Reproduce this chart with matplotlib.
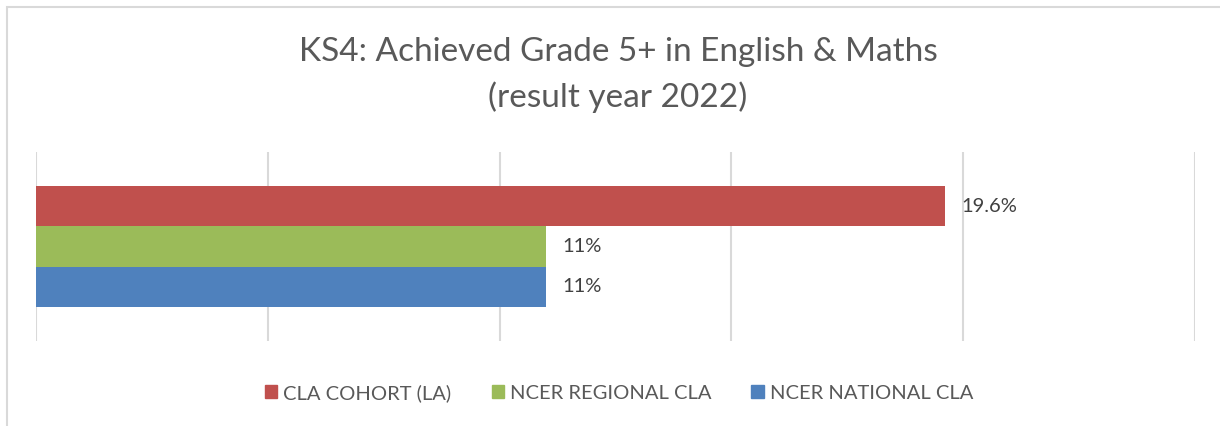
import matplotlib
matplotlib.use("Agg")
import matplotlib.pyplot as plt
from matplotlib.patches import Rectangle

series = ["CLA COHORT (LA)", "NCER REGIONAL CLA", "NCER NATIONAL CLA"]
values = [19.6, 11, 11]
labels = ["19.6%", "11%", "11%"]
colors = ["#C0504D", "#9BBB59", "#4F81BD"]
xticks = [0, 5, 10, 15, 20, 25]

plt.rcParams['font.family'] = ['Lato', 'DejaVu Sans']

W, H = 1220, 426
fig = plt.figure(figsize=(W/100, H/100), dpi=100)
fig.patch.set_facecolor("white")

# outer chart border
fig.add_artist(Rectangle((7/W, -0.01), 1.02, 1 - 7/H + 0.01, transform=fig.transFigure,
                         fill=False, edgecolor="#D9D9D9", linewidth=1.5))

ax = fig.add_axes([36/W, 1 - 341/H, (1195 - 36)/W, (341 - 152)/H])
positions = [1, 0, -1]
for pos, v, c, lab in zip(positions, values, colors, labels):
    ax.barh(pos, v, height=1.0, color=c, label=None)
    ax.annotate(lab, (v, pos), xytext=(12, 0), textcoords="offset points",
                va="center", ha="left", fontsize=14.5, color="#404040")

ax.set_xlim(0, 25)
ax.set_ylim(-2.36, 2.36)
ax.set_xticks(xticks)
ax.set_yticks([])
ax.xaxis.grid(True, color="#D9D9D9", linewidth=1.5)
ax.set_axisbelow(True)
ax.tick_params(axis="x", length=0, labelbottom=False)
for s in ax.spines.values():
    s.set_visible(False)

fig.text(618/W, 1 - 52/H, "KS4: Achieved Grade 5+ in English & Maths",
         ha="center", va="center", fontsize=24, color="#595959")
fig.text(618/W, 1 - 97/H, "(result year 2022)",
         ha="center", va="center", fontsize=24, color="#595959")

handles = [Rectangle((0, 0), 1, 1, color=c) for c in colors]
fig.legend(handles, series, loc="center", bbox_to_anchor=(619/W, 1 - 393/H),
           ncol=3, frameon=False, fontsize=14.5, handlelength=0.6, handleheight=0.6,
           handletextpad=0.3, columnspacing=2.0, labelcolor="#595959")

fig.savefig("out.png", dpi=100, facecolor="white")
